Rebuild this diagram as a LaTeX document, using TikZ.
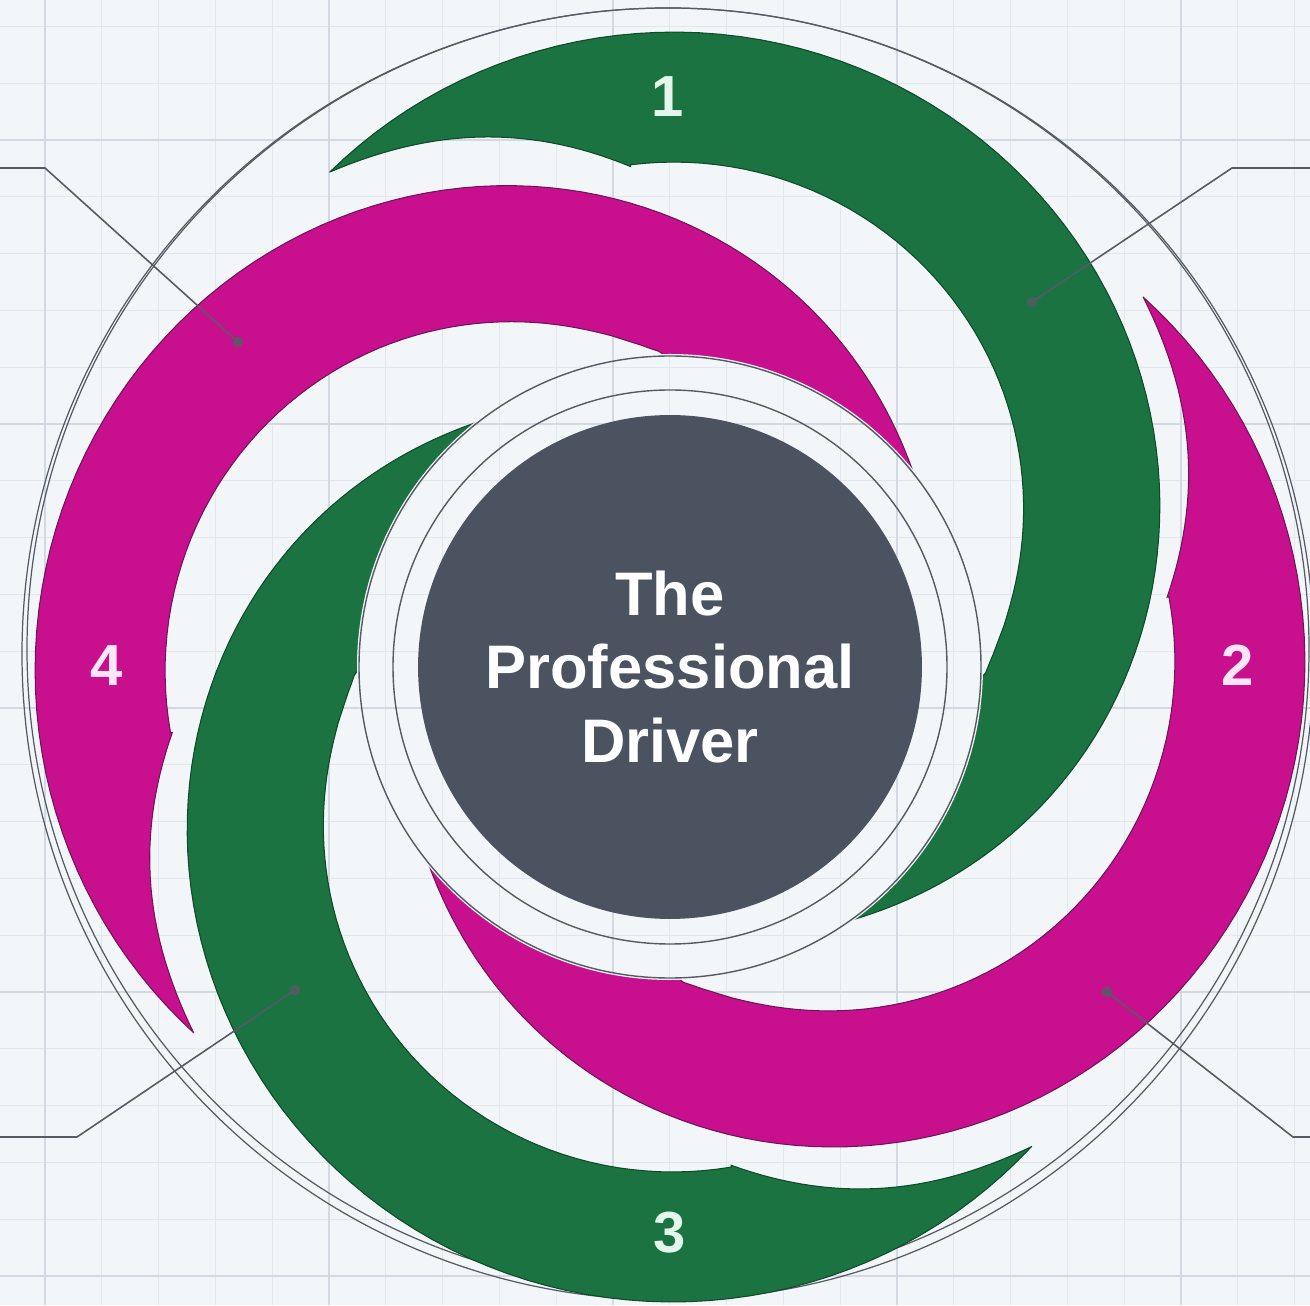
\documentclass[tikz,border=0pt]{standalone}
\usepackage{fontspec}
\setmainfont{Liberation Sans}
\definecolor{bgc}{HTML}{F3F6F9}
\definecolor{gridc}{HTML}{E1E7ED}
\definecolor{gridm}{HTML}{D2D9E1}
\definecolor{armg}{HTML}{1A7341}
\definecolor{armgd}{HTML}{0F4A2A}
\definecolor{armm}{HTML}{C8108F}
\definecolor{armmd}{HTML}{701459}
\definecolor{hubc}{HTML}{4B5360}
\definecolor{linec}{HTML}{555B63}
\definecolor{mintc}{HTML}{E3F7EA}
\definecolor{pinkc}{HTML}{FCE6F5}

\newcommand{\armpath}{plot[domain=0:184,samples=100] ({126-\x}:{455+180*sin(126-\x)})
 -- (-5:295)
 -- plot[domain=0.5:96,samples=60] (\x:{315+190*sin(\x)^1.15})
 -- (96:502)
 -- plot[domain=96:126,samples=30] (\x:{502+3.287*(\x-96)+11*sin(6*(\x-96))}) -- cycle}

\newcommand{\gridpattern}{%
 \foreach \i in {0,...,22} {\draw[gridline] ({45+56.8*\i},0) -- ({45+56.8*\i},1305);}
 \foreach \j in {-2,...,20} {\draw[gridline] (0,{1165-56.8*\j}) -- (1310,{1165-56.8*\j});}
 \foreach \i in {0,5,10,15,20} {\draw[gridmajor] ({45+56.8*\i},0) -- ({45+56.8*\i},1305);}
 \foreach \j in {0,5,10,15,20} {\draw[gridmajor] (0,{1165-56.8*\j}) -- (1310,{1165-56.8*\j});}
}

\begin{document}
\begin{tikzpicture}[x=0.02cm,y=0.02cm,
  gridline/.style={draw=gridc,line width=0.5pt},
  gridmajor/.style={draw=gridm,line width=0.6pt},
  outerline/.style={draw=linec,line width=0.7pt},
  ringline/.style={draw=linec,line width=0.8pt},
  greenarm/.style={fill=armg,draw=armgd,line width=0.6pt,line join=miter},
  magarm/.style={fill=armm,draw=armmd,line width=0.6pt,line join=miter},
  numlbl/.style={font=\fontsize{33}{40}\selectfont\bfseries,inner sep=0pt},
  hubtext/.style={font=\fontsize{35}{42}\selectfont\bfseries,text=white,align=center,inner sep=0pt},
  dotn/.style={circle,fill=linec,fill opacity=0.8,inner sep=0pt,minimum size=0.22cm},
  leader/.style={draw=linec,line width=0.9pt}]
\useasboundingbox (0,0) rectangle (1310,1305);
\clip (0,0) rectangle (1310,1305);
\fill[bgc] (0,0) rectangle (1310,1305);
\gridpattern
\coordinate (C) at (670,638);
% outer circles
\draw[outerline] (668,651) circle (646);
\draw[outerline] (668,656) circle (641);
% arms
\begin{scope}[shift={(670,638)}]
  \begin{scope}[rotate=-1.5]\filldraw[greenarm] \armpath;\end{scope}
  \begin{scope}[rotate=-88]\filldraw[magarm] \armpath;\end{scope}
  \begin{scope}[rotate=-179]\filldraw[greenarm] \armpath;\end{scope}
  \begin{scope}[rotate=91.5]\filldraw[magarm] \armpath;\end{scope}
\end{scope}
% central ring
\begin{scope}
  \clip (C) circle (313);
  \fill[bgc] (0,0) rectangle (1310,1305);
  \gridpattern
\end{scope}
\draw[ringline] (C) circle (311);
\draw[ringline] (C) circle (277);
\node[circle,fill=hubc,inner sep=0pt,minimum size=10.08cm] (hubdisc) at (C) {};
\node[hubtext] (hub) at (C) {The\\Professional\\Driver};
% number labels
\node[numlbl,text=mintc] (n1) at (668,1208) {1};
\node[numlbl,text=pinkc] (n2) at (1238,640) {2};
\node[numlbl,text=mintc] (n3) at (670,72) {3};
\node[numlbl,text=pinkc] (n4) at (107,639) {4};
% leader lines
\node[dotn] (d1) at (238,963) {};
\node[dotn] (d2) at (1032,1003) {};
\node[dotn] (d3) at (295,315) {};
\node[dotn] (d4) at (1107,313) {};
\coordinate (e1) at (45,1137);   \coordinate (f1) at (0,1137);
\coordinate (e2) at (1232,1137); \coordinate (f2) at (1310,1137);
\coordinate (e3) at (77,168);    \coordinate (f3) at (0,168);
\coordinate (e4) at (1293,168);  \coordinate (f4) at (1310,168);
\draw[leader] (d1.center) -- (e1) -- (f1);
\draw[leader] (d2.center) -- (e2) -- (f2);
\draw[leader] (d3.center) -- (e3) -- (f3);
\draw[leader] (d4.center) -- (e4) -- (f4);
\end{tikzpicture}
\end{document}
